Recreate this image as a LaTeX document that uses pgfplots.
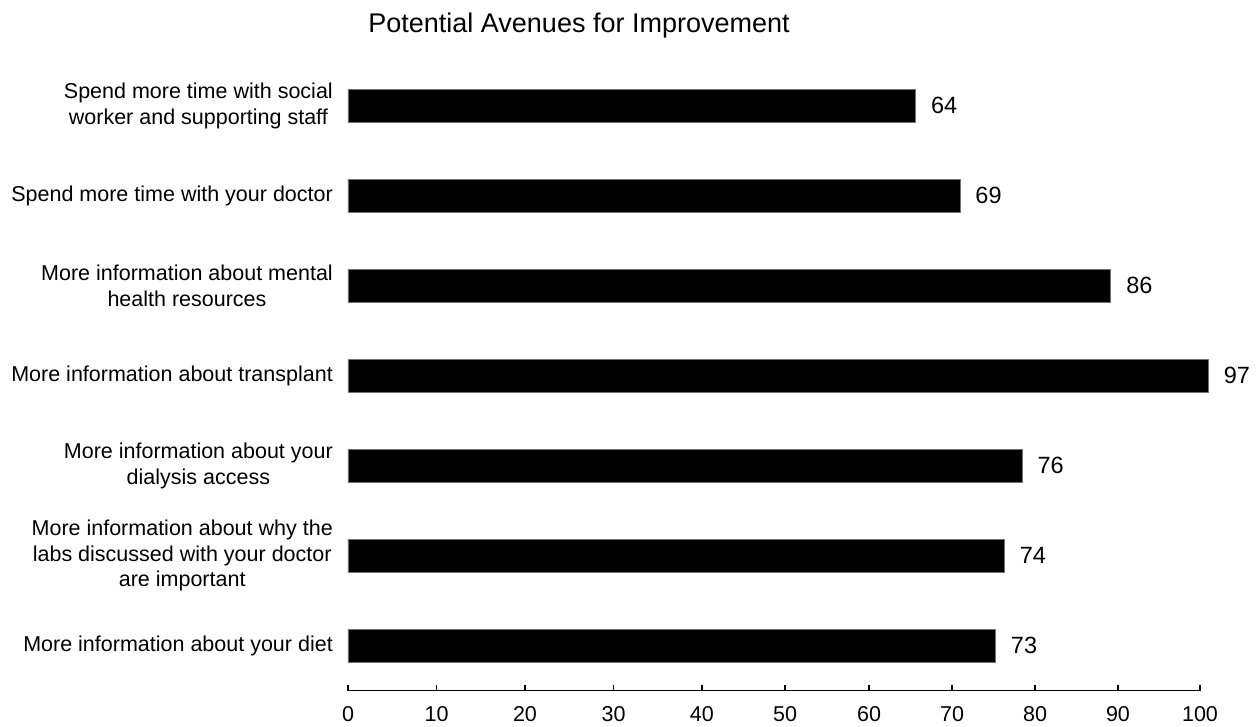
\documentclass[border=0pt]{standalone}
\usepackage{fontspec}
\setmainfont{Liberation Sans}
\usepackage{pgfplots}
\pgfplotsset{compat=1.18}
\newcommand{\lblfont}{\fontsize{21.5}{25.5}\selectfont}
\newcommand{\tickfont}{\fontsize{21.5}{25}\selectfont}
\newcommand{\valfont}{\fontsize{23.5}{27}\selectfont}
\begin{document}
\begin{tikzpicture}[x=1pt,y=1pt]
\useasboundingbox (0,0) rectangle (1256,726);
\begin{axis}[
  at={(348pt,35.3pt)}, anchor=south west,
  scale only axis, width=852pt, height=630pt,
  /pgf/number format/assume math mode=true,
  xbar, bar width=32.5pt,
  xmin=0, xmax=96.05, ymin=-0.5, ymax=6.5,
  clip=false,
  axis x line*=bottom,
  axis y line*=left,
  x axis line style={-, line width=1.5pt, black},
  y axis line style={draw=none},
  tick align=inside,
  major tick length=6pt,
  xtick style={line width=1.5pt, black},
  ytick style={draw=none},
  xtick={0,10,19.95,29.95,39.9,49.27,58.74,68.1,77.45,86.8,96.05},
  xticklabels={0,10,20,30,40,50,60,70,80,90,100},
  xticklabel style={font=\tickfont, inner sep=0pt, anchor=north, yshift=-16pt},
  ytick={0,...,6},
  yticklabels={
    More information about your diet,
    {More information about why the\\labs discussed with your doctor\\are important},
    {More information about your\\dialysis access},
    More information about transplant,
    {More information about mental\\health resources},
    Spend more time with your doctor,
    {Spend more time with social\\worker and supporting staff}},
  yticklabel style={font=\lblfont, align=center, anchor=east, inner sep=0pt, xshift=-15pt},
  nodes near coords,
  point meta=x,
  nodes near coords style={font=\valfont, anchor=west, inner sep=0pt, xshift=15pt},
]
\addplot[fill=black, draw=black!55, line width=0.8pt]
  coordinates {(73,0) (74,1) (76,2) (97,3) (86,4) (69,5) (64,6)};
\end{axis}
\node[anchor=base, font=\fontsize{27}{31}\selectfont] at (579,693) {Potential Avenues for Improvement};
\end{tikzpicture}
\end{document}
